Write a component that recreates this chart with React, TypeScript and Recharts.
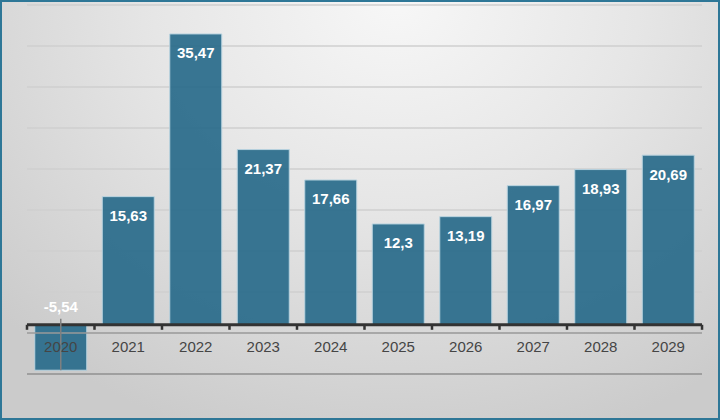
import React from "react";
import { BarChart, Bar, XAxis, YAxis, CartesianGrid, ReferenceLine, LabelList } from "recharts";

const years = ["2020", "2021", "2022", "2023", "2024", "2025", "2026", "2027", "2028", "2029"];
const values = [-5.54, 15.63, 35.47, 21.37, 17.66, 12.3, 13.19, 16.97, 18.93, 20.69];
const gridTicks = [-6, -1, 4, 9, 14, 19, 24, 29, 34];
const yDomain = [-6, 39];

const data = years.map((year, i) => ({ year, value: values[i] }));

const GAP = 0.115;
const FONT = "'Liberation Sans', Arial, sans-serif";

const getBox = (p: any) => {
  const vb = p.viewBox || {};
  const x = p.x ?? vb.x;
  const y = p.y ?? vb.y;
  const width = p.width ?? vb.width;
  const height = p.height ?? vb.height;
  return { x: Number(x), y: Number(y), width: Number(width), height: Number(height) };
};

const ValueLabel = (p: any) => {
  const { x, y, width, height } = getBox(p);
  const v = Number(p.value);
  const cx = x + width / 2;
  const text = String(v).replace(".", ",");
  if (v >= 0) {
    const top = Math.min(y, y + height);
    return (
      <text x={cx} y={top + 19} textAnchor="middle" dominantBaseline="central" fill="#ffffff" fontFamily={FONT} fontSize={15} fontWeight="bold">
        {text}
      </text>
    );
  }
  const zero = Math.min(y, y + height);
  const bottom = Math.max(y, y + height);
  return (
    <g>
      <line x1={cx} x2={cx} y1={zero - 6} y2={bottom} stroke="#808080" strokeWidth={1.5} />
      <text x={cx} y={zero - 18} textAnchor="middle" dominantBaseline="central" fill="#ffffff" fontFamily={FONT} fontSize={15} fontWeight="bold">
        {text}
      </text>
    </g>
  );
};

const YearLabel = (p: any) => {
  const { x, y, width, height } = getBox(p);
  const idx = Number(p.index);
  const v = values[idx];
  const zero = v >= 0 ? Math.max(y, y + height) : Math.min(y, y + height);
  const gap = (width * GAP) / (1 - 2 * GAP);
  const left = x - gap;
  const right = x + width + gap;
  const cx = x + width / 2;
  return (
    <g>
      <line x1={left} x2={left} y1={zero} y2={zero + 5} stroke="#333333" strokeWidth={2.5} />
      {idx === years.length - 1 && (
        <line x1={right} x2={right} y1={zero} y2={zero + 5} stroke="#333333" strokeWidth={2.5} />
      )}
      <text x={cx} y={zero + 22} textAnchor="middle" dominantBaseline="central" fill="#454545" fontFamily={FONT} fontSize={15}>
        {p.value}
      </text>
    </g>
  );
};

export default function App() {
  return (
    <div
      style={{
        position: "absolute",
        left: 0,
        top: 0,
        width: 720,
        height: 420,
        background: "radial-gradient(ellipse 75% 110% at 55% 0%, #f7f7f7 0%, #e6e6e6 45%, #cbcbcb 100%)",
        overflow: "hidden",
      }}
    >
      <BarChart
        width={720}
        height={420}
        data={data}
        margin={{ top: 5, right: 18, left: 27, bottom: 46 }}
        barCategoryGap={`${GAP * 100}%`}
      >
        <CartesianGrid vertical={false} stroke="#cfcfcf" strokeWidth={1.5} />
        <XAxis dataKey="year" hide />
        <YAxis hide domain={yDomain} ticks={gridTicks} type="number" allowDataOverflow />
        <ReferenceLine y={-1} stroke="#9a9a9a" strokeWidth={1.5} />
        <ReferenceLine y={-6} stroke="#8f8f8f" strokeWidth={1.5} />
        <Bar dataKey="value" fill="#2a6c8b" fillOpacity={0.93} stroke="#b9d3df" strokeWidth={1} isAnimationActive={false}>
          <LabelList dataKey="value" content={ValueLabel} />
          <LabelList dataKey="year" content={YearLabel} />
        </Bar>
        <ReferenceLine y={0} stroke="#333333" strokeWidth={3} />
      </BarChart>
      <div
        style={{
          position: "absolute",
          left: 0,
          top: 0,
          width: 720,
          height: 420,
          boxSizing: "border-box",
          border: "2px solid #2e7797",
          pointerEvents: "none",
        }}
      />
    </div>
  );
}
